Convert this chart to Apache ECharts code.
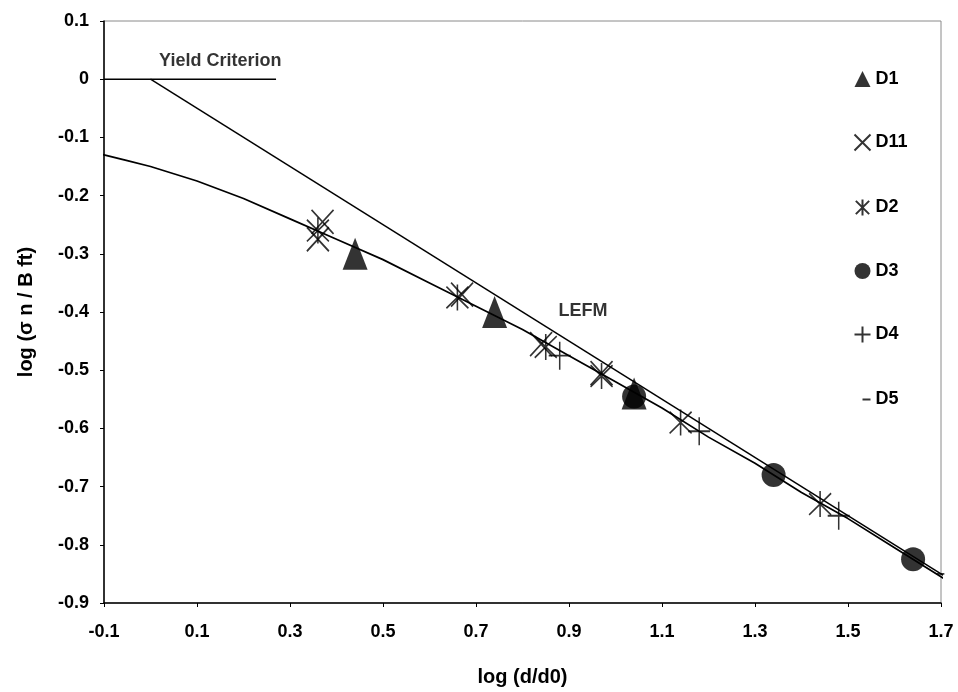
<!DOCTYPE html>
<html>
<head>
<meta charset="utf-8">
<script src="https://cdn.jsdelivr.net/npm/echarts@6/dist/echarts.min.js"></script>
<style>
html,body{margin:0;padding:0;background:#fff;}
#c{width:958px;height:692px;}
</style>
</head>
<body>
<div id="c"></div>
<script>
// ---- tick labels ----
const xTicks = [-0.1, 0.1, 0.3, 0.5, 0.7, 0.9, 1.1, 1.3, 1.5, 1.7];
const yTicks = [0.1, 0, -0.1, -0.2, -0.3, -0.4, -0.5, -0.6, -0.7, -0.8, -0.9];

// ---- measured data (log(d/d0), log(sigmaN/Bft)) ----
const d1  = [[0.44, -0.30], [0.74, -0.40], [1.04, -0.54]];
const d11 = [[0.37, -0.245], [0.36, -0.275], [0.67, -0.37], [0.84, -0.455], [0.97, -0.505]];
const d2  = [[0.36, -0.26], [0.66, -0.375], [0.85, -0.46], [0.97, -0.51], [1.14, -0.59], [1.44, -0.73]];
const d3  = [[1.04, -0.545], [1.34, -0.68], [1.64, -0.825]];
const d4  = [[0.88, -0.475], [1.18, -0.605], [1.48, -0.75]];
const d5  = [[1.69, -0.85]];

// ---- reference lines ----
const curveX = [-0.13, -0.1, -0.05, 0.0, 0.1, 0.2, 0.3, 0.4, 0.5, 0.6, 0.7, 0.8, 0.9, 1.0, 1.1, 1.2, 1.3, 1.4, 1.5, 1.6, 1.7, 1.73];
const curveY = [-0.125, -0.13, -0.14, -0.15, -0.175, -0.205, -0.24, -0.275, -0.31, -0.35, -0.39, -0.43, -0.475, -0.52, -0.565, -0.615, -0.66, -0.71, -0.755, -0.805, -0.855, -0.87];
const lefmX = [0.0, 1.73];
const lefmY = [0.0, -0.865];
const yieldX = [-0.1, 0.27];
const yieldY = [0.0, 0.0];

const legendNames = ['D1', 'D11', 'D2', 'D3', 'D4', 'D5'];

const zip = (a, b) => a.map((v, i) => [v, b[i]]);

const crossPath = 'path://M0,0L10,10M10,0L0,10';
const starPath  = 'path://M0,0L10,10M10,0L0,10M5,-1L5,11';
const plusPath  = 'path://M5,0L5,10M0,5L10,5';
const dashPath  = 'path://M0,0M8,8L16,8M16,16';

const FONT = "'Liberation Sans', Arial, sans-serif";
const TXT = {color: '#000', fontFamily: FONT, fontWeight: 'bold'};
const strokeStyle = {color: 'none', borderColor: '#000', borderWidth: 1.7};

const chart = echarts.init(document.getElementById('c'), null, {renderer: 'canvas'});

const lineSeries = (name, data, w) => ({
  name, type: 'line', data, symbol: 'none', silent: true, clip: false,
  lineStyle: {color: '#000', width: w}, z: 2
});

const fmt = v => (Math.abs(v) < 1e-9 ? '0' : v.toFixed(1));

chart.setOption({
  animation: false,
  backgroundColor: '#fff',
  textStyle: {fontFamily: FONT, color: '#000'},
  grid: {left: 104, right: 17, top: 21, bottom: 89, show: true, borderColor: '#8a8a8a', borderWidth: 1},
  xAxis: {
    type: 'value', min: xTicks[0], max: xTicks[xTicks.length - 1],
    name: 'log (d/d0)', nameLocation: 'middle', nameGap: 64,
    nameTextStyle: Object.assign({fontSize: 20}, TXT),
    axisLine: {show: true, onZero: false, lineStyle: {color: '#000', width: 1.5}},
    axisTick: {show: true, length: 4, customValues: xTicks, lineStyle: {color: '#000'}},
    axisLabel: Object.assign({customValues: xTicks, margin: 20, fontSize: 18, formatter: fmt}, TXT),
    splitLine: {show: false}
  },
  yAxis: {
    type: 'value', min: yTicks[yTicks.length - 1], max: yTicks[0],
    name: 'log (σ n / B ft)', nameLocation: 'middle', nameGap: 68,
    nameTextStyle: Object.assign({fontSize: 20}, TXT),
    axisLine: {show: true, onZero: false, lineStyle: {color: '#000', width: 1.5}},
    axisTick: {show: true, length: 4, customValues: yTicks, lineStyle: {color: '#000'}},
    axisLabel: Object.assign({customValues: yTicks, margin: 15, fontSize: 18, formatter: fmt}, TXT),
    splitLine: {show: false}
  },
  legend: {
    data: legendNames, orient: 'vertical', left: 847, top: 65,
    itemWidth: 16, itemHeight: 16, itemGap: 44,
    textStyle: Object.assign({fontSize: 18}, TXT),
    selectedMode: false
  },
  series: [
    lineSeries('Yield', zip(yieldX, yieldY), 1.5),
    lineSeries('LEFM line', zip(lefmX, lefmY), 1.5),
    lineSeries('Size effect', zip(curveX, curveY), 1.7),
    {name: 'D1', type: 'scatter', data: d1, symbol: 'triangle', symbolSize: [25, 32],
     itemStyle: {color: '#000'}, z: 5, silent: true},
    {name: 'D11', type: 'scatter', data: d11, symbol: crossPath, symbolSize: [22, 24],
     itemStyle: strokeStyle, z: 5, silent: true},
    {name: 'D2', type: 'scatter', data: d2, symbol: starPath, symbolSize: [22, 26],
     itemStyle: strokeStyle, z: 5, silent: true},
    {name: 'D3', type: 'scatter', data: d3, symbol: 'circle', symbolSize: 24,
     itemStyle: {color: '#000'}, z: 5, silent: true},
    {name: 'D4', type: 'scatter', data: d4, symbol: plusPath, symbolSize: [22, 28],
     itemStyle: strokeStyle, z: 5, silent: true},
    {name: 'D5', type: 'scatter', data: d5, symbol: dashPath, symbolSize: [16, 16],
     itemStyle: strokeStyle, z: 5, silent: true},
    {name: 'annotations', type: 'scatter', symbolSize: 0, silent: true, z: 6,
     data: [{name: 'Yield Criterion', value: [0.15, 0.032]}, {name: 'LEFM', value: [0.93, -0.398]}],
     label: Object.assign({show: true, position: 'inside', formatter: '{b}', fontSize: 18}, TXT)}
  ]
});
</script>
</body>
</html>
